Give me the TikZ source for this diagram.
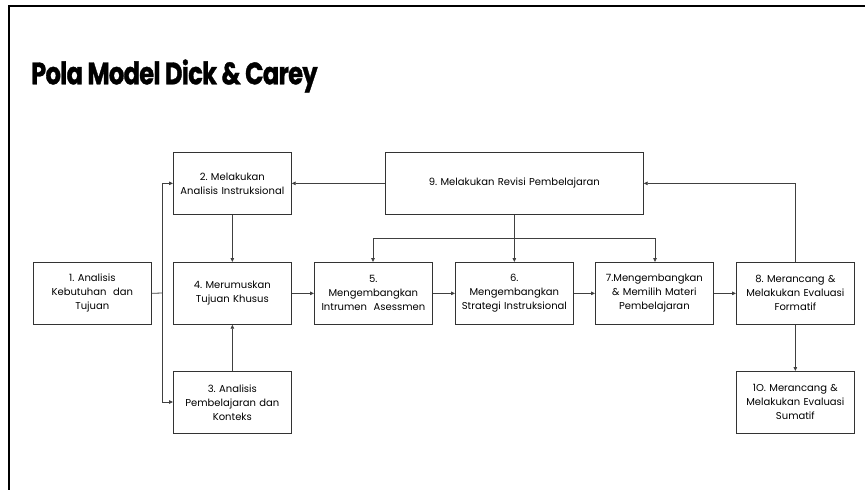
\documentclass[tikz,border=0pt]{standalone}
\usepackage{fontspec}
\setmainfont{Poppins}
\newfontfamily\titlefont[LetterSpace=-3,FakeBold=1.2]{Poppins}
\usetikzlibrary{arrows.meta}
\begin{document}
\begin{tikzpicture}[x=1pt,y=-1pt,
  box/.style={draw=black!80, line width=0.7pt, minimum width=118pt, minimum height=62pt, inner sep=1pt, align=center, font=\fontsize{10}{14}\selectfont, anchor=north west, text width=116pt},
  conn/.style={draw=black!75, line width=0.8pt},
  arr/.style={conn, -{Triangle[length=4pt,width=3.5pt]}}]
\useasboundingbox (0,0) rectangle (865,490);
\fill[white] (0,0) rectangle (865,490);
% outer frame
\draw[line width=2pt] (9,500) -- (9,6) -- (870,6);
% title
\node[anchor=west, inner sep=0pt, xscale=0.78, font=\titlefont\bfseries\fontsize{31}{31}\selectfont] (title) at (31,76) {Pola Model Dick \& Carey};
% boxes
\node[box] (b1) at (33,262) {1.\ Analisis\\Kebutuhan\ \ dan\\Tujuan};
\node[box] (b2) at (173,152) {2.\ Melakukan\\Analisis\ Instruksional};
\node[box] (b4) at (173,262) {4.\ Merumuskan\\Tujuan\ Khusus};
\node[box] (b3) at (173,371) {3.\ Analisis\\Pembelajaran dan\\Konteks};
\node[box, minimum width=258pt, text width=250pt] (b9) at (385,152) {9.\ Melakukan\ Revisi\ Pembelajaran};
\node[box] (b5) at (314,262) {5.\\Mengembangkan\\Intrumen\ \ Asessmen};
\node[box] (b6) at (455,262) {6.\\Mengembangkan\\Strategi\ Instruksional};
\node[box] (b7) at (595,262) {7.Mengembangkan\\\&\ Memilih\ Materi\\Pembelajaran};
\node[box] (b8) at (736,262) {8.\ Merancang\ \&\\Melakukan\ Evaluasi\\Formatif};
\node[box] (b10) at (736,371) {1O.\ Merancang\ \&\\Melakukan\ Evaluasi\\Sumatif};
% junction from box 1
\coordinate (j) at (162,293);
\draw[conn] (b1.east) -- (j);
\draw[arr] (j) |- (b2.west);
\draw[arr] (j) |- ([yshift=-31pt]b3.north west);
% vertical arrows
\draw[arr] (b2) -- (b4);
\draw[arr] (b3) -- (b4);
% horizontal chain
\draw[arr] (b4) -- (b5);
\draw[arr] (b5) -- (b6);
\draw[arr] (b6) -- (b7);
\draw[arr] (b7) -- (b8);
\draw[arr] (b8) -- (b10);
% revision
\draw[arr] (b9.west) -- (b2.east);
\draw[arr] (b8.north) |- (b9.east);
\draw[arr] (b9.south) -- (b6.north);
\coordinate (d1) at (373,238);
\coordinate (d2) at (655,238);
\draw[arr] (d1 -| b6.north) -- (d1) -- (d1 |- b5.north);
\draw[arr] (d1 -| b6.north) -- (d2) -- (d2 |- b7.north);
\end{tikzpicture}
\end{document}
